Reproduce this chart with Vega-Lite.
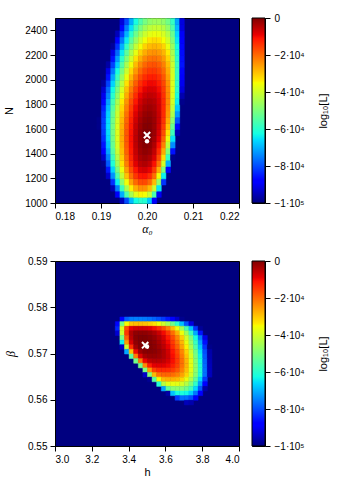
{
"$schema": "https://vega.github.io/schema/vega-lite/v6.json",
"padding": {"left": 3, "top": 12, "right": 3, "bottom": 5},
"columns": 2,
"spacing": {"row": 58, "column": 13},
"bounds": "flush",
"config": {
 "view": {"fill": "#000080", "stroke": "#000000", "strokeWidth": 1},
 "axis": {"labelFont": "Liberation Sans", "labelFontSize": 10, "labelColor": "#000000", "tickColor": "#000000", "domainColor": "#000000", "tickSize": 5, "labelPadding": 3, "titleFont": "Liberation Sans", "titleFontSize": 11, "titleFontWeight": "normal", "titleColor": "#000000", "grid": false, "zindex": 1}
},
"datasets": {
"top": [
{"a":0.1945,"n":1025,"v":-94800},{"a":0.1955,"n":1025,"v":-80000},{"a":0.1965,"n":1025,"v":-69200},{"a":0.1975,"n":1025,"v":-62400},{"a":0.1985,"n":1025,"v":-59500},{"a":0.1995,"n":1025,"v":-60600},{"a":0.2005,"n":1025,"v":-67800},{"a":0.2015,"n":1025,"v":-88900},
{"a":0.1935,"n":1075,"v":-89200},{"a":0.1945,"n":1075,"v":-70600},{"a":0.1955,"n":1075,"v":-55800},{"a":0.1965,"n":1075,"v":-44900},{"a":0.1975,"n":1075,"v":-37800},{"a":0.1985,"n":1075,"v":-34500},{"a":0.1995,"n":1075,"v":-35200},{"a":0.2005,"n":1075,"v":-40800},{"a":0.2015,"n":1075,"v":-56200},{"a":0.2025,"n":1075,"v":-89900},
{"a":0.1925,"n":1125,"v":-95500},{"a":0.1935,"n":1125,"v":-75000},{"a":0.1945,"n":1125,"v":-58000},{"a":0.1955,"n":1125,"v":-44400},{"a":0.1965,"n":1125,"v":-34200},{"a":0.1975,"n":1125,"v":-27500},{"a":0.1985,"n":1125,"v":-24300},{"a":0.1995,"n":1125,"v":-24400},{"a":0.2005,"n":1125,"v":-28800},{"a":0.2015,"n":1125,"v":-40300},{"a":0.2025,"n":1125,"v":-64900},
{"a":0.1925,"n":1175,"v":-82800},{"a":0.1935,"n":1175,"v":-64100},{"a":0.1945,"n":1175,"v":-48400},{"a":0.1955,"n":1175,"v":-35900},{"a":0.1965,"n":1175,"v":-26400},{"a":0.1975,"n":1175,"v":-20100},{"a":0.1985,"n":1175,"v":-16800},{"a":0.1995,"n":1175,"v":-16600},{"a":0.2005,"n":1175,"v":-19900},{"a":0.2015,"n":1175,"v":-28900},{"a":0.2025,"n":1175,"v":-47600},{"a":0.2035,"n":1175,"v":-82400},
{"a":0.1915,"n":1225,"v":-93400},{"a":0.1925,"n":1225,"v":-73200},{"a":0.1935,"n":1225,"v":-55900},{"a":0.1945,"n":1225,"v":-41400},{"a":0.1955,"n":1225,"v":-29600},{"a":0.1965,"n":1225,"v":-20700},{"a":0.1975,"n":1225,"v":-14600},{"a":0.1985,"n":1225,"v":-11300},{"a":0.1995,"n":1225,"v":-10900},{"a":0.2005,"n":1225,"v":-13500},{"a":0.2015,"n":1225,"v":-20800},{"a":0.2025,"n":1225,"v":-35900},{"a":0.2035,"n":1225,"v":-63900},
{"a":0.1915,"n":1275,"v":-85300},{"a":0.1925,"n":1275,"v":-66500},{"a":0.1935,"n":1275,"v":-50300},{"a":0.1945,"n":1275,"v":-36600},{"a":0.1955,"n":1275,"v":-25600},{"a":0.1965,"n":1275,"v":-17100},{"a":0.1975,"n":1275,"v":-11200},{"a":0.1985,"n":1275,"v":-7900},{"a":0.1995,"n":1275,"v":-7200},{"a":0.2005,"n":1275,"v":-9200},{"a":0.2015,"n":1275,"v":-15100},{"a":0.2025,"n":1275,"v":-27300},{"a":0.2035,"n":1275,"v":-49600},{"a":0.2045,"n":1275,"v":-87400},
{"a":0.1905,"n":1325,"v":-98900},{"a":0.1915,"n":1325,"v":-78800},{"a":0.1925,"n":1325,"v":-61100},{"a":0.1935,"n":1325,"v":-45800},{"a":0.1945,"n":1325,"v":-32900},{"a":0.1955,"n":1325,"v":-22300},{"a":0.1965,"n":1325,"v":-14200},{"a":0.1975,"n":1325,"v":-8500},{"a":0.1985,"n":1325,"v":-5100},{"a":0.1995,"n":1325,"v":-4200},{"a":0.2005,"n":1325,"v":-5800},{"a":0.2015,"n":1325,"v":-10700},{"a":0.2025,"n":1325,"v":-20800},{"a":0.2035,"n":1325,"v":-39300},{"a":0.2045,"n":1325,"v":-70500},
{"a":0.1905,"n":1375,"v":-93800},{"a":0.1915,"n":1375,"v":-74700},{"a":0.1925,"n":1375,"v":-57800},{"a":0.1935,"n":1375,"v":-43100},{"a":0.1945,"n":1375,"v":-30700},{"a":0.1955,"n":1375,"v":-20600},{"a":0.1965,"n":1375,"v":-12700},{"a":0.1975,"n":1375,"v":-7100},{"a":0.1985,"n":1375,"v":-3700},{"a":0.1995,"n":1375,"v":-2600},{"a":0.2005,"n":1375,"v":-3800},{"a":0.2015,"n":1375,"v":-7900},{"a":0.2025,"n":1375,"v":-16500},{"a":0.2035,"n":1375,"v":-32200},{"a":0.2045,"n":1375,"v":-58500},{"a":0.2055,"n":1375,"v":-99000},
{"a":0.1905,"n":1425,"v":-89100},{"a":0.1915,"n":1425,"v":-70900},{"a":0.1925,"n":1425,"v":-54800},{"a":0.1935,"n":1425,"v":-40800},{"a":0.1945,"n":1425,"v":-29000},{"a":0.1955,"n":1425,"v":-19200},{"a":0.1965,"n":1425,"v":-11600},{"a":0.1975,"n":1425,"v":-6100},{"a":0.1985,"n":1425,"v":-2600},{"a":0.1995,"n":1425,"v":-1400},{"a":0.2005,"n":1425,"v":-2200},{"a":0.2015,"n":1425,"v":-5800},{"a":0.2025,"n":1425,"v":-13300},{"a":0.2035,"n":1425,"v":-26900},{"a":0.2045,"n":1425,"v":-49700},{"a":0.2055,"n":1425,"v":-85800},
{"a":0.1905,"n":1475,"v":-85600},{"a":0.1915,"n":1475,"v":-68100},{"a":0.1925,"n":1475,"v":-52700},{"a":0.1935,"n":1475,"v":-39200},{"a":0.1945,"n":1475,"v":-27800},{"a":0.1955,"n":1475,"v":-18300},{"a":0.1965,"n":1475,"v":-10900},{"a":0.1975,"n":1475,"v":-5400},{"a":0.1985,"n":1475,"v":-2000},{"a":0.1995,"n":1475,"v":-600},{"a":0.2005,"n":1475,"v":-1200},{"a":0.2015,"n":1475,"v":-4200},{"a":0.2025,"n":1475,"v":-10700},{"a":0.2035,"n":1475,"v":-22500},{"a":0.2045,"n":1475,"v":-42400},{"a":0.2055,"n":1475,"v":-73800},
{"a":0.1905,"n":1525,"v":-83200},{"a":0.1915,"n":1525,"v":-66300},{"a":0.1925,"n":1525,"v":-51400},{"a":0.1935,"n":1525,"v":-38300},{"a":0.1945,"n":1525,"v":-27200},{"a":0.1955,"n":1525,"v":-18000},{"a":0.1965,"n":1525,"v":-10700},{"a":0.1975,"n":1525,"v":-5300},{"a":0.1985,"n":1525,"v":-1800},{"a":0.1995,"n":1525,"v":-200},{"a":0.2005,"n":1525,"v":-500},{"a":0.2015,"n":1525,"v":-3100},{"a":0.2025,"n":1525,"v":-8900},{"a":0.2035,"n":1525,"v":-19400},{"a":0.2045,"n":1525,"v":-37100},{"a":0.2055,"n":1525,"v":-65200},
{"a":0.1905,"n":1575,"v":-81800},{"a":0.1915,"n":1575,"v":-65400},{"a":0.1925,"n":1575,"v":-50800},{"a":0.1935,"n":1575,"v":-38100},{"a":0.1945,"n":1575,"v":-27200},{"a":0.1955,"n":1575,"v":-18100},{"a":0.1965,"n":1575,"v":-10900},{"a":0.1975,"n":1575,"v":-5500},{"a":0.1985,"n":1575,"v":-1900},{"a":0.1995,"n":1575,"v":-200},{"a":0.2005,"n":1575,"v":-300},{"a":0.2015,"n":1575,"v":-2500},{"a":0.2025,"n":1575,"v":-7600},{"a":0.2035,"n":1575,"v":-16900},{"a":0.2045,"n":1575,"v":-32700},{"a":0.2055,"n":1575,"v":-57700},{"a":0.2065,"n":1575,"v":-95400},
{"a":0.1895,"n":1625,"v":-99100},{"a":0.1905,"n":1625,"v":-81200},{"a":0.1915,"n":1625,"v":-65200},{"a":0.1925,"n":1625,"v":-50900},{"a":0.1935,"n":1625,"v":-38300},{"a":0.1945,"n":1625,"v":-27600},{"a":0.1955,"n":1625,"v":-18600},{"a":0.1965,"n":1625,"v":-11500},{"a":0.1975,"n":1625,"v":-6000},{"a":0.1985,"n":1625,"v":-2400},{"a":0.1995,"n":1625,"v":-500},{"a":0.2005,"n":1625,"v":-500},{"a":0.2015,"n":1625,"v":-2400},{"a":0.2025,"n":1625,"v":-6900},{"a":0.2035,"n":1625,"v":-15300},{"a":0.2045,"n":1625,"v":-29600},{"a":0.2055,"n":1625,"v":-52400},{"a":0.2065,"n":1625,"v":-86800},
{"a":0.1895,"n":1675,"v":-99100},{"a":0.1905,"n":1675,"v":-81500},{"a":0.1915,"n":1675,"v":-65700},{"a":0.1925,"n":1675,"v":-51500},{"a":0.1935,"n":1675,"v":-39100},{"a":0.1945,"n":1675,"v":-28500},{"a":0.1955,"n":1675,"v":-19600},{"a":0.1965,"n":1675,"v":-12400},{"a":0.1975,"n":1675,"v":-6900},{"a":0.1985,"n":1675,"v":-3200},{"a":0.1995,"n":1675,"v":-1200},{"a":0.2005,"n":1675,"v":-900},{"a":0.2015,"n":1675,"v":-2500},{"a":0.2025,"n":1675,"v":-6500},{"a":0.2035,"n":1675,"v":-14200},{"a":0.2045,"n":1675,"v":-27100},{"a":0.2055,"n":1675,"v":-47800},{"a":0.2065,"n":1675,"v":-79200},
{"a":0.1905,"n":1725,"v":-82600},{"a":0.1915,"n":1725,"v":-66800},{"a":0.1925,"n":1725,"v":-52800},{"a":0.1935,"n":1725,"v":-40500},{"a":0.1945,"n":1725,"v":-29800},{"a":0.1955,"n":1725,"v":-20900},{"a":0.1965,"n":1725,"v":-13600},{"a":0.1975,"n":1725,"v":-8100},{"a":0.1985,"n":1725,"v":-4200},{"a":0.1995,"n":1725,"v":-2100},{"a":0.2005,"n":1725,"v":-1600},{"a":0.2015,"n":1725,"v":-3000},{"a":0.2025,"n":1725,"v":-6500},{"a":0.2035,"n":1725,"v":-13400},{"a":0.2045,"n":1725,"v":-25100},{"a":0.2055,"n":1725,"v":-43900},{"a":0.2065,"n":1725,"v":-72400},
{"a":0.1905,"n":1775,"v":-84400},{"a":0.1915,"n":1775,"v":-68700},{"a":0.1925,"n":1775,"v":-54600},{"a":0.1935,"n":1775,"v":-42300},{"a":0.1945,"n":1775,"v":-31600},{"a":0.1955,"n":1775,"v":-22600},{"a":0.1965,"n":1775,"v":-15200},{"a":0.1975,"n":1775,"v":-9600},{"a":0.1985,"n":1775,"v":-5600},{"a":0.1995,"n":1775,"v":-3300},{"a":0.2005,"n":1775,"v":-2600},{"a":0.2015,"n":1775,"v":-3700},{"a":0.2025,"n":1775,"v":-7000},{"a":0.2035,"n":1775,"v":-13200},{"a":0.2045,"n":1775,"v":-24000},{"a":0.2055,"n":1775,"v":-41400},{"a":0.2065,"n":1775,"v":-67900},
{"a":0.1905,"n":1825,"v":-87100},{"a":0.1915,"n":1825,"v":-71200},{"a":0.1925,"n":1825,"v":-57100},{"a":0.1935,"n":1825,"v":-44600},{"a":0.1945,"n":1825,"v":-33800},{"a":0.1955,"n":1825,"v":-24600},{"a":0.1965,"n":1825,"v":-17200},{"a":0.1975,"n":1825,"v":-11300},{"a":0.1985,"n":1825,"v":-7200},{"a":0.1995,"n":1825,"v":-4700},{"a":0.2005,"n":1825,"v":-3900},{"a":0.2015,"n":1825,"v":-4800},{"a":0.2025,"n":1825,"v":-7700},{"a":0.2035,"n":1825,"v":-13400},{"a":0.2045,"n":1825,"v":-23300},{"a":0.2055,"n":1825,"v":-39300},{"a":0.2065,"n":1825,"v":-63900},{"a":0.2075,"n":1825,"v":-99000},
{"a":0.1905,"n":1875,"v":-90500},{"a":0.1915,"n":1875,"v":-74500},{"a":0.1925,"n":1875,"v":-60200},{"a":0.1935,"n":1875,"v":-47500},{"a":0.1945,"n":1875,"v":-36500},{"a":0.1955,"n":1875,"v":-27200},{"a":0.1965,"n":1875,"v":-19500},{"a":0.1975,"n":1875,"v":-13500},{"a":0.1985,"n":1875,"v":-9200},{"a":0.1995,"n":1875,"v":-6500},{"a":0.2005,"n":1875,"v":-5500},{"a":0.2015,"n":1875,"v":-6200},{"a":0.2025,"n":1875,"v":-8800},{"a":0.2035,"n":1875,"v":-14100},{"a":0.2045,"n":1875,"v":-23300},{"a":0.2055,"n":1875,"v":-38300},{"a":0.2065,"n":1875,"v":-61600},{"a":0.2075,"n":1875,"v":-95800},
{"a":0.1905,"n":1925,"v":-93100},{"a":0.1915,"n":1925,"v":-77200},{"a":0.1925,"n":1925,"v":-62800},{"a":0.1935,"n":1925,"v":-50200},{"a":0.1945,"n":1925,"v":-39100},{"a":0.1955,"n":1925,"v":-29700},{"a":0.1965,"n":1925,"v":-22000},{"a":0.1975,"n":1925,"v":-15900},{"a":0.1985,"n":1925,"v":-11400},{"a":0.1995,"n":1925,"v":-8600},{"a":0.2005,"n":1925,"v":-7400},{"a":0.2015,"n":1925,"v":-7900},{"a":0.2025,"n":1925,"v":-10200},{"a":0.2035,"n":1925,"v":-15100},{"a":0.2045,"n":1925,"v":-23700},{"a":0.2055,"n":1925,"v":-37700},{"a":0.2065,"n":1925,"v":-59600},{"a":0.2075,"n":1925,"v":-92000},
{"a":0.1905,"n":1975,"v":-97400},{"a":0.1915,"n":1975,"v":-81200},{"a":0.1925,"n":1975,"v":-66600},{"a":0.1935,"n":1975,"v":-53700},{"a":0.1945,"n":1975,"v":-42500},{"a":0.1955,"n":1975,"v":-32900},{"a":0.1965,"n":1975,"v":-24900},{"a":0.1975,"n":1975,"v":-18600},{"a":0.1985,"n":1975,"v":-13900},{"a":0.1995,"n":1975,"v":-10900},{"a":0.2005,"n":1975,"v":-9600},{"a":0.2015,"n":1975,"v":-9900},{"a":0.2025,"n":1975,"v":-12000},{"a":0.2035,"n":1975,"v":-16500},{"a":0.2045,"n":1975,"v":-24600},{"a":0.2055,"n":1975,"v":-38000},{"a":0.2065,"n":1975,"v":-58900},{"a":0.2075,"n":1975,"v":-90200},
{"a":0.1915,"n":2025,"v":-86000},{"a":0.1925,"n":2025,"v":-71100},{"a":0.1935,"n":2025,"v":-57900},{"a":0.1945,"n":2025,"v":-46400},{"a":0.1955,"n":2025,"v":-36500},{"a":0.1965,"n":2025,"v":-28300},{"a":0.1975,"n":2025,"v":-21700},{"a":0.1985,"n":2025,"v":-16800},{"a":0.1995,"n":2025,"v":-13600},{"a":0.2005,"n":2025,"v":-12100},{"a":0.2015,"n":2025,"v":-12200},{"a":0.2025,"n":2025,"v":-14000},{"a":0.2035,"n":2025,"v":-18200},{"a":0.2045,"n":2025,"v":-25800},{"a":0.2055,"n":2025,"v":-38500},{"a":0.2065,"n":2025,"v":-58500},{"a":0.2075,"n":2025,"v":-88500},
{"a":0.1915,"n":2075,"v":-90900},{"a":0.1925,"n":2075,"v":-75800},{"a":0.1935,"n":2075,"v":-62300},{"a":0.1945,"n":2075,"v":-50500},{"a":0.1955,"n":2075,"v":-40400},{"a":0.1965,"n":2075,"v":-31900},{"a":0.1975,"n":2075,"v":-25100},{"a":0.1985,"n":2075,"v":-20000},{"a":0.1995,"n":2075,"v":-16600},{"a":0.2005,"n":2075,"v":-14900},{"a":0.2015,"n":2075,"v":-14800},{"a":0.2025,"n":2075,"v":-16400},{"a":0.2035,"n":2075,"v":-20200},{"a":0.2045,"n":2075,"v":-27300},{"a":0.2055,"n":2075,"v":-39300},{"a":0.2065,"n":2075,"v":-58300},{"a":0.2075,"n":2075,"v":-87100},
{"a":0.1915,"n":2125,"v":-96700},{"a":0.1925,"n":2125,"v":-81100},{"a":0.1935,"n":2125,"v":-67300},{"a":0.1945,"n":2125,"v":-55100},{"a":0.1955,"n":2125,"v":-44600},{"a":0.1965,"n":2125,"v":-35900},{"a":0.1975,"n":2125,"v":-28800},{"a":0.1985,"n":2125,"v":-23500},{"a":0.1995,"n":2125,"v":-19800},{"a":0.2005,"n":2125,"v":-17900},{"a":0.2015,"n":2125,"v":-17600},{"a":0.2025,"n":2125,"v":-19000},{"a":0.2035,"n":2125,"v":-22500},{"a":0.2045,"n":2125,"v":-29100},{"a":0.2055,"n":2125,"v":-40300},{"a":0.2065,"n":2125,"v":-58300},{"a":0.2075,"n":2125,"v":-85700},
{"a":0.1925,"n":2175,"v":-85900},{"a":0.1935,"n":2175,"v":-71900},{"a":0.1945,"n":2175,"v":-59600},{"a":0.1955,"n":2175,"v":-49000},{"a":0.1965,"n":2175,"v":-40000},{"a":0.1975,"n":2175,"v":-32800},{"a":0.1985,"n":2175,"v":-27300},{"a":0.1995,"n":2175,"v":-23400},{"a":0.2005,"n":2175,"v":-21300},{"a":0.2015,"n":2175,"v":-20900},{"a":0.2025,"n":2175,"v":-22000},{"a":0.2035,"n":2175,"v":-25300},{"a":0.2045,"n":2175,"v":-31500},{"a":0.2055,"n":2175,"v":-42200},{"a":0.2065,"n":2175,"v":-59500},{"a":0.2075,"n":2175,"v":-86100},
{"a":0.1925,"n":2225,"v":-91400},{"a":0.1935,"n":2225,"v":-77100},{"a":0.1945,"n":2225,"v":-64500},{"a":0.1955,"n":2225,"v":-53600},{"a":0.1965,"n":2225,"v":-44500},{"a":0.1975,"n":2225,"v":-37000},{"a":0.1985,"n":2225,"v":-31200},{"a":0.1995,"n":2225,"v":-27200},{"a":0.2005,"n":2225,"v":-24800},{"a":0.2015,"n":2225,"v":-24200},{"a":0.2025,"n":2225,"v":-25200},{"a":0.2035,"n":2225,"v":-28200},{"a":0.2045,"n":2225,"v":-34000},{"a":0.2055,"n":2225,"v":-44200},{"a":0.2065,"n":2225,"v":-60800},{"a":0.2075,"n":2225,"v":-86500},
{"a":0.1925,"n":2275,"v":-97700},{"a":0.1935,"n":2275,"v":-83000},{"a":0.1945,"n":2275,"v":-70100},{"a":0.1955,"n":2275,"v":-58900},{"a":0.1965,"n":2275,"v":-49400},{"a":0.1975,"n":2275,"v":-41700},{"a":0.1985,"n":2275,"v":-35700},{"a":0.1995,"n":2275,"v":-31400},{"a":0.2005,"n":2275,"v":-28800},{"a":0.2015,"n":2275,"v":-28000},{"a":0.2025,"n":2275,"v":-28800},{"a":0.2035,"n":2275,"v":-31500},{"a":0.2045,"n":2275,"v":-36900},{"a":0.2055,"n":2275,"v":-46400},{"a":0.2065,"n":2275,"v":-62300},{"a":0.2075,"n":2275,"v":-87000},
{"a":0.1935,"n":2325,"v":-89000},{"a":0.1945,"n":2325,"v":-75700},{"a":0.1955,"n":2325,"v":-64300},{"a":0.1965,"n":2325,"v":-54500},{"a":0.1975,"n":2325,"v":-46600},{"a":0.1985,"n":2325,"v":-40300},{"a":0.1995,"n":2325,"v":-35800},{"a":0.2005,"n":2325,"v":-33000},{"a":0.2015,"n":2325,"v":-32000},{"a":0.2025,"n":2325,"v":-32600},{"a":0.2035,"n":2325,"v":-35100},{"a":0.2045,"n":2325,"v":-40100},{"a":0.2055,"n":2325,"v":-49300},{"a":0.2065,"n":2325,"v":-64700},{"a":0.2075,"n":2325,"v":-88900},
{"a":0.1935,"n":2375,"v":-94900},{"a":0.1945,"n":2375,"v":-81500},{"a":0.1955,"n":2375,"v":-69800},{"a":0.1965,"n":2375,"v":-59900},{"a":0.1975,"n":2375,"v":-51700},{"a":0.1985,"n":2375,"v":-45200},{"a":0.1995,"n":2375,"v":-40500},{"a":0.2005,"n":2375,"v":-37600},{"a":0.2015,"n":2375,"v":-36300},{"a":0.2025,"n":2375,"v":-36800},{"a":0.2035,"n":2375,"v":-38900},{"a":0.2045,"n":2375,"v":-43500},{"a":0.2055,"n":2375,"v":-52100},{"a":0.2065,"n":2375,"v":-66500},{"a":0.2075,"n":2375,"v":-89400},
{"a":0.1945,"n":2425,"v":-87200},{"a":0.1955,"n":2425,"v":-75400},{"a":0.1965,"n":2425,"v":-65300},{"a":0.1975,"n":2425,"v":-57000},{"a":0.1985,"n":2425,"v":-50400},{"a":0.1995,"n":2425,"v":-45500},{"a":0.2005,"n":2425,"v":-42400},{"a":0.2015,"n":2425,"v":-41000},{"a":0.2025,"n":2425,"v":-41200},{"a":0.2035,"n":2425,"v":-43100},{"a":0.2045,"n":2425,"v":-47400},{"a":0.2055,"n":2425,"v":-55400},{"a":0.2065,"n":2425,"v":-69100},{"a":0.2075,"n":2425,"v":-91300},
{"a":0.1945,"n":2475,"v":-92200},{"a":0.1955,"n":2475,"v":-80500},{"a":0.1965,"n":2475,"v":-70500},{"a":0.1975,"n":2475,"v":-62200},{"a":0.1985,"n":2475,"v":-55600},{"a":0.1995,"n":2475,"v":-50600},{"a":0.2005,"n":2475,"v":-47400},{"a":0.2015,"n":2475,"v":-45900},{"a":0.2025,"n":2475,"v":-45900},{"a":0.2035,"n":2475,"v":-47500},{"a":0.2045,"n":2475,"v":-51300},{"a":0.2055,"n":2475,"v":-58600},{"a":0.2065,"n":2475,"v":-71300},{"a":0.2075,"n":2475,"v":-91800}
],
"bot": [
{"h":3.3625,"b":0.5775,"v":-88000},{"h":3.3875,"b":0.5775,"v":-78200},{"h":3.4125,"b":0.5775,"v":-75300},{"h":3.4375,"b":0.5775,"v":-75000},{"h":3.4625,"b":0.5775,"v":-75100},{"h":3.4875,"b":0.5775,"v":-75500},{"h":3.5125,"b":0.5775,"v":-76300},{"h":3.5375,"b":0.5775,"v":-77600},{"h":3.5625,"b":0.5775,"v":-79400},{"h":3.5875,"b":0.5775,"v":-81800},{"h":3.6125,"b":0.5775,"v":-84900},{"h":3.6375,"b":0.5775,"v":-88700},{"h":3.6625,"b":0.5775,"v":-93300},{"h":3.6875,"b":0.5775,"v":-98800},
{"h":3.3375,"b":0.5765,"v":-87100},{"h":3.3625,"b":0.5765,"v":-51200},{"h":3.3875,"b":0.5765,"v":-35300},{"h":3.4125,"b":0.5765,"v":-30000},{"h":3.4375,"b":0.5765,"v":-29100},{"h":3.4625,"b":0.5765,"v":-29100},{"h":3.4875,"b":0.5765,"v":-29700},{"h":3.5125,"b":0.5765,"v":-30900},{"h":3.5375,"b":0.5765,"v":-33000},{"h":3.5625,"b":0.5765,"v":-36100},{"h":3.5875,"b":0.5765,"v":-40100},{"h":3.6125,"b":0.5765,"v":-45300},{"h":3.6375,"b":0.5765,"v":-51800},{"h":3.6625,"b":0.5765,"v":-59500},{"h":3.6875,"b":0.5765,"v":-68700},{"h":3.7125,"b":0.5765,"v":-79400},{"h":3.7375,"b":0.5765,"v":-91800},
{"h":3.3375,"b":0.5755,"v":-84000},{"h":3.3625,"b":0.5755,"v":-38300},{"h":3.3875,"b":0.5755,"v":-16900},{"h":3.4125,"b":0.5755,"v":-9000},{"h":3.4375,"b":0.5755,"v":-7200},{"h":3.4625,"b":0.5755,"v":-7100},{"h":3.4875,"b":0.5755,"v":-7500},{"h":3.5125,"b":0.5755,"v":-8600},{"h":3.5375,"b":0.5755,"v":-10500},{"h":3.5625,"b":0.5755,"v":-13400},{"h":3.5875,"b":0.5755,"v":-17400},{"h":3.6125,"b":0.5755,"v":-22400},{"h":3.6375,"b":0.5755,"v":-28700},{"h":3.6625,"b":0.5755,"v":-36400},{"h":3.6875,"b":0.5755,"v":-45500},{"h":3.7125,"b":0.5755,"v":-56100},{"h":3.7375,"b":0.5755,"v":-68300},{"h":3.7625,"b":0.5755,"v":-82200},{"h":3.7875,"b":0.5755,"v":-98000},
{"h":3.3375,"b":0.5745,"v":-92800},{"h":3.3625,"b":0.5745,"v":-40600},{"h":3.3875,"b":0.5745,"v":-14700},{"h":3.4125,"b":0.5745,"v":-4300},{"h":3.4375,"b":0.5745,"v":-1500},{"h":3.4625,"b":0.5745,"v":-1200},{"h":3.4875,"b":0.5745,"v":-1300},{"h":3.5125,"b":0.5745,"v":-2200},{"h":3.5375,"b":0.5745,"v":-3900},{"h":3.5625,"b":0.5745,"v":-6500},{"h":3.5875,"b":0.5745,"v":-10000},{"h":3.6125,"b":0.5745,"v":-14700},{"h":3.6375,"b":0.5745,"v":-20500},{"h":3.6625,"b":0.5745,"v":-27600},{"h":3.6875,"b":0.5745,"v":-36100},{"h":3.7125,"b":0.5745,"v":-46100},{"h":3.7375,"b":0.5745,"v":-57600},{"h":3.7625,"b":0.5745,"v":-70800},{"h":3.7875,"b":0.5745,"v":-85700},
{"h":3.3625,"b":0.5735,"v":-50500},{"h":3.3875,"b":0.5735,"v":-18800},{"h":3.4125,"b":0.5735,"v":-5100},{"h":3.4375,"b":0.5735,"v":-800},{"h":3.4625,"b":0.5735,"v":-100},{"h":3.4875,"b":0.5735,"v":-100},{"h":3.5125,"b":0.5735,"v":-800},{"h":3.5375,"b":0.5735,"v":-2100},{"h":3.5625,"b":0.5735,"v":-4300},{"h":3.5875,"b":0.5735,"v":-7400},{"h":3.6125,"b":0.5735,"v":-11500},{"h":3.6375,"b":0.5735,"v":-16700},{"h":3.6625,"b":0.5735,"v":-23100},{"h":3.6875,"b":0.5735,"v":-30700},{"h":3.7125,"b":0.5735,"v":-39700},{"h":3.7375,"b":0.5735,"v":-50200},{"h":3.7625,"b":0.5735,"v":-62100},{"h":3.7875,"b":0.5735,"v":-75700},{"h":3.8125,"b":0.5735,"v":-91000},
{"h":3.3625,"b":0.5725,"v":-63700},{"h":3.3875,"b":0.5725,"v":-25400},{"h":3.4125,"b":0.5725,"v":-7600},{"h":3.4375,"b":0.5725,"v":-1400},{"h":3.4625,"b":0.5725,"v":-100},{"h":3.4875,"b":0.5725,"v":0},{"h":3.5125,"b":0.5725,"v":-400},{"h":3.5375,"b":0.5725,"v":-1500},{"h":3.5625,"b":0.5725,"v":-3500},{"h":3.5875,"b":0.5725,"v":-6300},{"h":3.6125,"b":0.5725,"v":-10100},{"h":3.6375,"b":0.5725,"v":-14900},{"h":3.6625,"b":0.5725,"v":-21000},{"h":3.6875,"b":0.5725,"v":-28200},{"h":3.7125,"b":0.5725,"v":-36800},{"h":3.7375,"b":0.5725,"v":-46800},{"h":3.7625,"b":0.5725,"v":-58300},{"h":3.7875,"b":0.5725,"v":-71300},{"h":3.8125,"b":0.5725,"v":-86100},
{"h":3.3625,"b":0.5715,"v":-94100},{"h":3.3875,"b":0.5715,"v":-40400},{"h":3.4125,"b":0.5715,"v":-13800},{"h":3.4375,"b":0.5715,"v":-3200},{"h":3.4625,"b":0.5715,"v":-300},{"h":3.4875,"b":0.5715,"v":0},{"h":3.5125,"b":0.5715,"v":-200},{"h":3.5375,"b":0.5715,"v":-1100},{"h":3.5625,"b":0.5715,"v":-2700},{"h":3.5875,"b":0.5715,"v":-5200},{"h":3.6125,"b":0.5715,"v":-8700},{"h":3.6375,"b":0.5715,"v":-13300},{"h":3.6625,"b":0.5715,"v":-19000},{"h":3.6875,"b":0.5715,"v":-26000},{"h":3.7125,"b":0.5715,"v":-34300},{"h":3.7375,"b":0.5715,"v":-44100},{"h":3.7625,"b":0.5715,"v":-55300},{"h":3.7875,"b":0.5715,"v":-68200},{"h":3.8125,"b":0.5715,"v":-82800},{"h":3.8375,"b":0.5715,"v":-99100},
{"h":3.3875,"b":0.5705,"v":-71100},{"h":3.4125,"b":0.5705,"v":-29600},{"h":3.4375,"b":0.5705,"v":-9800},{"h":3.4625,"b":0.5705,"v":-2500},{"h":3.4875,"b":0.5705,"v":-700},{"h":3.5125,"b":0.5705,"v":-600},{"h":3.5375,"b":0.5705,"v":-1000},{"h":3.5625,"b":0.5705,"v":-2100},{"h":3.5875,"b":0.5705,"v":-4100},{"h":3.6125,"b":0.5705,"v":-7100},{"h":3.6375,"b":0.5705,"v":-11300},{"h":3.6625,"b":0.5705,"v":-16600},{"h":3.6875,"b":0.5705,"v":-23200},{"h":3.7125,"b":0.5705,"v":-31300},{"h":3.7375,"b":0.5705,"v":-40900},{"h":3.7625,"b":0.5705,"v":-52000},{"h":3.7875,"b":0.5705,"v":-65000},{"h":3.8125,"b":0.5705,"v":-79700},{"h":3.8375,"b":0.5705,"v":-96400},
{"h":3.4125,"b":0.5695,"v":-53800},{"h":3.4375,"b":0.5695,"v":-22300},{"h":3.4625,"b":0.5695,"v":-8000},{"h":3.4875,"b":0.5695,"v":-3100},{"h":3.5125,"b":0.5695,"v":-2100},{"h":3.5375,"b":0.5695,"v":-2100},{"h":3.5625,"b":0.5695,"v":-2700},{"h":3.5875,"b":0.5695,"v":-4200},{"h":3.6125,"b":0.5695,"v":-6700},{"h":3.6375,"b":0.5695,"v":-10400},{"h":3.6625,"b":0.5695,"v":-15300},{"h":3.6875,"b":0.5695,"v":-21700},{"h":3.7125,"b":0.5695,"v":-29500},{"h":3.7375,"b":0.5695,"v":-39000},{"h":3.7625,"b":0.5695,"v":-50300},{"h":3.7875,"b":0.5695,"v":-63400},{"h":3.8125,"b":0.5695,"v":-78600},{"h":3.8375,"b":0.5695,"v":-95900},
{"h":3.4375,"b":0.5685,"v":-51000},{"h":3.4625,"b":0.5685,"v":-21800},{"h":3.4875,"b":0.5685,"v":-9200},{"h":3.5125,"b":0.5685,"v":-5200},{"h":3.5375,"b":0.5685,"v":-4600},{"h":3.5625,"b":0.5685,"v":-4700},{"h":3.5875,"b":0.5685,"v":-5500},{"h":3.6125,"b":0.5685,"v":-7400},{"h":3.6375,"b":0.5685,"v":-10500},{"h":3.6625,"b":0.5685,"v":-15000},{"h":3.6875,"b":0.5685,"v":-20900},{"h":3.7125,"b":0.5685,"v":-28400},{"h":3.7375,"b":0.5685,"v":-37700},{"h":3.7625,"b":0.5685,"v":-48900},{"h":3.7875,"b":0.5685,"v":-62100},{"h":3.8125,"b":0.5685,"v":-77600},{"h":3.8375,"b":0.5685,"v":-95400},
{"h":3.4625,"b":0.5675,"v":-51400},{"h":3.4875,"b":0.5675,"v":-23400},{"h":3.5125,"b":0.5675,"v":-11900},{"h":3.5375,"b":0.5675,"v":-8700},{"h":3.5625,"b":0.5675,"v":-8300},{"h":3.5875,"b":0.5675,"v":-8500},{"h":3.6125,"b":0.5675,"v":-9700},{"h":3.6375,"b":0.5675,"v":-12100},{"h":3.6625,"b":0.5675,"v":-15900},{"h":3.6875,"b":0.5675,"v":-21200},{"h":3.7125,"b":0.5675,"v":-28200},{"h":3.7375,"b":0.5675,"v":-37100},{"h":3.7625,"b":0.5675,"v":-48100},{"h":3.7875,"b":0.5675,"v":-61200},{"h":3.8125,"b":0.5675,"v":-76800},{"h":3.8375,"b":0.5675,"v":-94900},
{"h":3.4875,"b":0.5665,"v":-50300},{"h":3.5125,"b":0.5665,"v":-25300},{"h":3.5375,"b":0.5665,"v":-15800},{"h":3.5625,"b":0.5665,"v":-13400},{"h":3.5875,"b":0.5665,"v":-13200},{"h":3.6125,"b":0.5665,"v":-13600},{"h":3.6375,"b":0.5665,"v":-15200},{"h":3.6625,"b":0.5665,"v":-18200},{"h":3.6875,"b":0.5665,"v":-22800},{"h":3.7125,"b":0.5665,"v":-29200},{"h":3.7375,"b":0.5665,"v":-37500},{"h":3.7625,"b":0.5665,"v":-48000},{"h":3.7875,"b":0.5665,"v":-60900},{"h":3.8125,"b":0.5665,"v":-76400},{"h":3.8375,"b":0.5665,"v":-94600},
{"h":3.4875,"b":0.5655,"v":-93700},{"h":3.5125,"b":0.5655,"v":-49200},{"h":3.5375,"b":0.5655,"v":-28500},{"h":3.5625,"b":0.5655,"v":-21200},{"h":3.5875,"b":0.5655,"v":-19700},{"h":3.6125,"b":0.5655,"v":-19600},{"h":3.6375,"b":0.5655,"v":-20400},{"h":3.6625,"b":0.5655,"v":-22500},{"h":3.6875,"b":0.5655,"v":-26100},{"h":3.7125,"b":0.5655,"v":-31600},{"h":3.7375,"b":0.5655,"v":-39200},{"h":3.7625,"b":0.5655,"v":-49000},{"h":3.7875,"b":0.5655,"v":-61400},{"h":3.8125,"b":0.5655,"v":-76500},{"h":3.8375,"b":0.5655,"v":-94600},
{"h":3.5125,"b":0.5645,"v":-98200},{"h":3.5375,"b":0.5645,"v":-54300},{"h":3.5625,"b":0.5645,"v":-34900},{"h":3.5875,"b":0.5645,"v":-28600},{"h":3.6125,"b":0.5645,"v":-27500},{"h":3.6375,"b":0.5645,"v":-27600},{"h":3.6625,"b":0.5645,"v":-28800},{"h":3.6875,"b":0.5645,"v":-31700},{"h":3.7125,"b":0.5645,"v":-36500},{"h":3.7375,"b":0.5645,"v":-43700},{"h":3.7625,"b":0.5645,"v":-53400},{"h":3.7875,"b":0.5645,"v":-66000},{"h":3.8125,"b":0.5645,"v":-81800},
{"h":3.5625,"b":0.5635,"v":-60500},{"h":3.5875,"b":0.5635,"v":-42800},{"h":3.6125,"b":0.5635,"v":-37700},{"h":3.6375,"b":0.5635,"v":-37000},{"h":3.6625,"b":0.5635,"v":-37300},{"h":3.6875,"b":0.5635,"v":-39200},{"h":3.7125,"b":0.5635,"v":-43200},{"h":3.7375,"b":0.5635,"v":-49800},{"h":3.7625,"b":0.5635,"v":-59400},{"h":3.7875,"b":0.5635,"v":-72300},{"h":3.8125,"b":0.5635,"v":-89000},
{"h":3.5875,"b":0.5625,"v":-71700},{"h":3.6125,"b":0.5625,"v":-53500},{"h":3.6375,"b":0.5625,"v":-48800},{"h":3.6625,"b":0.5625,"v":-48300},{"h":3.6875,"b":0.5625,"v":-48900},{"h":3.7125,"b":0.5625,"v":-51700},{"h":3.7375,"b":0.5625,"v":-57300},{"h":3.7625,"b":0.5625,"v":-66300},{"h":3.7875,"b":0.5625,"v":-79200},{"h":3.8125,"b":0.5625,"v":-96700},
{"h":3.6125,"b":0.5615,"v":-96600},{"h":3.6375,"b":0.5615,"v":-68400},{"h":3.6625,"b":0.5615,"v":-61900},{"h":3.6875,"b":0.5615,"v":-61500},{"h":3.7125,"b":0.5615,"v":-62800},{"h":3.7375,"b":0.5615,"v":-67100},{"h":3.7625,"b":0.5615,"v":-75600},{"h":3.7875,"b":0.5615,"v":-89100},
{"h":3.6625,"b":0.5605,"v":-81700},{"h":3.6875,"b":0.5605,"v":-76800},{"h":3.7125,"b":0.5605,"v":-76800},{"h":3.7375,"b":0.5605,"v":-79600},{"h":3.7625,"b":0.5605,"v":-87400},
{"h":3.7125,"b":0.5595,"v":-95000},{"h":3.7375,"b":0.5595,"v":-96100}
]
},
"concat": [
{
 "width": 184, "height": 185,
 "layer": [
  {"data": {"name": "top"}, "mark": {"type": "rect", "strokeWidth": 0.5},
   "encoding": {
    "x": {"field": "a", "type": "quantitative", "bin": {"step": 0.001, "extent": [0.18, 0.22]}, "scale": {"domain": [0.18, 0.22], "nice": false, "zero": false}, "title": "α₀", "axis": {"values": [0.18, 0.19, 0.2, 0.21, 0.22], "format": ".2f", "titleFont": "Liberation Serif", "titleFontStyle": "italic", "titleFontSize": 12, "titlePadding": 2}},
    "y": {"field": "n", "type": "quantitative", "bin": {"step": 50, "extent": [1000, 2500]}, "scale": {"domain": [1000, 2500], "nice": false, "zero": false}, "title": "N", "axis": {"values": [1000, 1200, 1400, 1600, 1800, 2000, 2200, 2400], "format": "d", "titlePadding": 10}},
    "color": {"field": "v", "type": "quantitative", "legend": null, "scale": {"domain": [-100000, -89000, -87500, -66000, -62500, -35000, -34000, -11000, -9000, 0], "range": ["#000080", "#0000ff", "#0000ff", "#00dbff", "#14ffe3", "#f7ff00", "#ffec00", "#ff1300", "#e80000", "#800000"], "interpolate": "rgb", "clamp": true}},
    "stroke": {"field": "v", "type": "quantitative", "legend": null, "scale": {"domain": [-100000, -89000, -87500, -66000, -62500, -35000, -34000, -11000, -9000, 0], "range": ["#000080", "#0000ff", "#0000ff", "#00dbff", "#14ffe3", "#f7ff00", "#ffec00", "#ff1300", "#e80000", "#800000"], "interpolate": "rgb", "clamp": true}}
   }},
  {"data": {"values": [{"a": 0.2, "n": 1550}]}, "mark": {"type": "point", "shape": "M-1,-1L1,1M-1,1L1,-1", "size": 40, "filled": false, "stroke": "#ffffff", "strokeWidth": 2, "opacity": 1},
   "encoding": {"x": {"field": "a", "type": "quantitative", "title": "α₀"}, "y": {"field": "n", "type": "quantitative", "title": "N"}}},
  {"data": {"values": [{"a": 0.2, "n": 1500}]}, "mark": {"type": "circle", "size": 20, "color": "#ffffff", "opacity": 1},
   "encoding": {"x": {"field": "a", "type": "quantitative", "title": "α₀"}, "y": {"field": "n", "type": "quantitative", "title": "N"}}}
 ]
},
{
 "width": 13, "height": 185,
 "data": {"values": [{"lo": -100000, "hi": 0}]},
 "mark": {"type": "rect", "fill": {"gradient": "linear", "x1": 0, "y1": 1, "x2": 0, "y2": 0, "stops": [{"offset": 0, "color": "#000080"}, {"offset": 0.11, "color": "#0000ff"}, {"offset": 0.125, "color": "#0000ff"}, {"offset": 0.34, "color": "#00dbff"}, {"offset": 0.375, "color": "#14ffe3"}, {"offset": 0.65, "color": "#f7ff00"}, {"offset": 0.66, "color": "#ffec00"}, {"offset": 0.89, "color": "#ff1300"}, {"offset": 0.91, "color": "#e80000"}, {"offset": 1, "color": "#800000"}]}, "stroke": "#000000", "strokeWidth": 1},
 "encoding": {
  "y": {"field": "lo", "type": "quantitative", "scale": {"domain": [-100000, 0], "nice": false, "zero": false}, "title": "log₁₀[L]", "axis": {"orient": "right", "values": [-100000, -80000, -60000, -40000, -20000, 0], "labelExpr": "datum.value == 0 ? '0' : datum.value == -100000 ? '−1·10⁵' : '−' + (-datum.value / 10000) + '·10⁴'", "titleAngle": 270, "titleBaseline": "top", "titlePadding": 13, "labelPadding": 4, "domain": false}},
  "y2": {"field": "hi"}
 }
},
{
 "width": 184, "height": 185,
 "layer": [
  {"data": {"name": "bot"}, "mark": {"type": "rect", "strokeWidth": 0.5},
   "encoding": {
    "x": {"field": "h", "type": "quantitative", "bin": {"step": 0.025, "extent": [3, 4]}, "scale": {"domain": [3, 4], "nice": false, "zero": false}, "title": "h", "axis": {"values": [3, 3.2, 3.4, 3.6, 3.8, 4], "format": ".1f", "titlePadding": 2}},
    "y": {"field": "b", "type": "quantitative", "bin": {"step": 0.001, "extent": [0.55, 0.59]}, "scale": {"domain": [0.55, 0.59], "nice": false, "zero": false}, "title": "β", "axis": {"values": [0.55, 0.56, 0.57, 0.58, 0.59], "format": ".2f", "titleFont": "Liberation Serif", "titleFontStyle": "italic", "titleFontSize": 12, "titlePadding": 10}},
    "color": {"field": "v", "type": "quantitative", "legend": null, "scale": {"domain": [-100000, -89000, -87500, -66000, -62500, -35000, -34000, -11000, -9000, 0], "range": ["#000080", "#0000ff", "#0000ff", "#00dbff", "#14ffe3", "#f7ff00", "#ffec00", "#ff1300", "#e80000", "#800000"], "interpolate": "rgb", "clamp": true}},
    "stroke": {"field": "v", "type": "quantitative", "legend": null, "scale": {"domain": [-100000, -89000, -87500, -66000, -62500, -35000, -34000, -11000, -9000, 0], "range": ["#000080", "#0000ff", "#0000ff", "#00dbff", "#14ffe3", "#f7ff00", "#ffec00", "#ff1300", "#e80000", "#800000"], "interpolate": "rgb", "clamp": true}}
   }},
  {"data": {"values": [{"h": 3.5, "b": 0.5715}]}, "mark": {"type": "circle", "size": 20, "color": "#ffffff", "opacity": 1},
   "encoding": {"x": {"field": "h", "type": "quantitative", "title": "h"}, "y": {"field": "b", "type": "quantitative", "title": "β"}}},
  {"data": {"values": [{"h": 3.49, "b": 0.5718}]}, "mark": {"type": "point", "shape": "M-1,-1L1,1M-1,1L1,-1", "size": 40, "filled": false, "stroke": "#ffffff", "strokeWidth": 2, "opacity": 1},
   "encoding": {"x": {"field": "h", "type": "quantitative", "title": "h"}, "y": {"field": "b", "type": "quantitative", "title": "β"}}}
 ]
},
{
 "width": 13, "height": 185,
 "data": {"values": [{"lo": -100000, "hi": 0}]},
 "mark": {"type": "rect", "fill": {"gradient": "linear", "x1": 0, "y1": 1, "x2": 0, "y2": 0, "stops": [{"offset": 0, "color": "#000080"}, {"offset": 0.11, "color": "#0000ff"}, {"offset": 0.125, "color": "#0000ff"}, {"offset": 0.34, "color": "#00dbff"}, {"offset": 0.375, "color": "#14ffe3"}, {"offset": 0.65, "color": "#f7ff00"}, {"offset": 0.66, "color": "#ffec00"}, {"offset": 0.89, "color": "#ff1300"}, {"offset": 0.91, "color": "#e80000"}, {"offset": 1, "color": "#800000"}]}, "stroke": "#000000", "strokeWidth": 1},
 "encoding": {
  "y": {"field": "lo", "type": "quantitative", "scale": {"domain": [-100000, 0], "nice": false, "zero": false}, "title": "log₁₀[L]", "axis": {"orient": "right", "values": [-100000, -80000, -60000, -40000, -20000, 0], "labelExpr": "datum.value == 0 ? '0' : datum.value == -100000 ? '−1·10⁵' : '−' + (-datum.value / 10000) + '·10⁴'", "titleAngle": 270, "titleBaseline": "top", "titlePadding": 13, "labelPadding": 4, "domain": false}},
  "y2": {"field": "hi"}
 }
}
]
}
